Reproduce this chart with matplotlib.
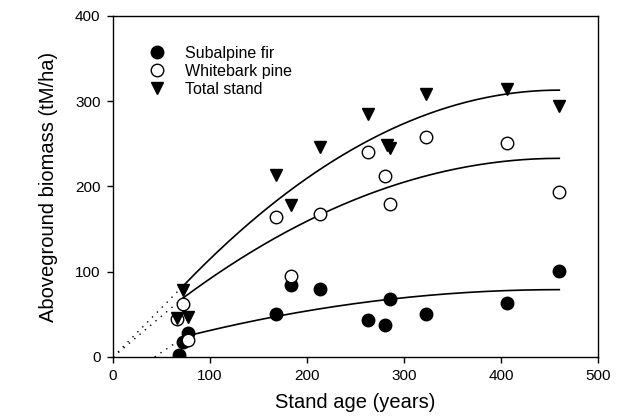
import numpy as np
import matplotlib
matplotlib.use("Agg")
import matplotlib.pyplot as plt

plt.rcParams['font.family'] = ['Liberation Sans', 'DejaVu Sans']

# aboveground biomass (tM/ha) by stand age (years)
fir_age = [68, 72, 77, 168, 183, 213, 263, 280, 285, 323, 406, 460]
fir = [2, 18, 28, 51, 84, 80, 43, 37, 68, 50, 63, 101]
pine_age = [66, 72, 77, 168, 183, 213, 263, 280, 285, 323, 406, 460]
pine = [44, 62, 20, 164, 95, 168, 241, 212, 179, 258, 251, 194]
total_age = [66, 72, 77, 168, 183, 213, 263, 282, 286, 323, 406, 460]
total = [46, 79, 47, 214, 178, 246, 285, 249, 245, 308, 314, 294]

# fitted curves: age range, value at first age, plateau value at last age
curve_names = ['Total stand', 'Whitebark pine', 'Subalpine fir']
curve_start_age = [72, 72, 74]
curve_end_age = [460, 460, 460]
curve_start_val = [83, 69, 24]
curve_end_val = [313, 233, 79]
# where the dotted back-extension meets the x axis
dot_origin_age = [0, 0, 43]

fig = plt.figure(figsize=(6.23, 4.20), dpi=100)
ax = fig.add_axes([0.1814, 0.150, 0.7786, 0.812])

for x0, x1, y0, y1, xo in zip(curve_start_age, curve_end_age, curve_start_val,
                              curve_end_val, dot_origin_age):
    # quadratic levelling off at the last stand age
    k = (y1 - y0) / (x1 - x0) ** 2
    xs = np.linspace(x0, x1, 200)
    ax.plot(xs, y1 - k * (x1 - xs) ** 2, color='black', lw=1.2, zorder=2)
    ax.plot([xo, x0], [0, y0], color='black', lw=1.0, ls=(0, (1, 4)), zorder=1)

ax.plot(fir_age, fir, 'o', color='black', ms=9, label='Subalpine fir', zorder=3)
ax.plot(pine_age, pine, 'o', mfc='white', mec='black', mew=1.0, ms=9,
        label='Whitebark pine', zorder=4)
ax.plot(total_age, total, 'v', color='black', ms=9, label='Total stand', zorder=5)

ax.set_xlim(0, 500)
ax.set_ylim(0, 400)
ax.set_xticks([0, 100, 200, 300, 400, 500])
ax.set_yticks([0, 100, 200, 300, 400])
ax.tick_params(direction='out', length=4, width=1, labelsize=11, pad=5)
for s in ax.spines.values():
    s.set_linewidth(1.0)

ax.set_xlabel('Stand age (years)', fontsize=14.5, labelpad=7)
ax.set_ylabel('Aboveground biomass (tM/ha)', fontsize=14.5, labelpad=12)

ax.legend(loc='upper left', bbox_to_anchor=(0.074, 0.913), frameon=False,
          fontsize=11.5, handletextpad=1.25, labelspacing=0.2,
          borderaxespad=0, handlelength=1.0, borderpad=0)

fig.savefig('out.png', dpi=100)
